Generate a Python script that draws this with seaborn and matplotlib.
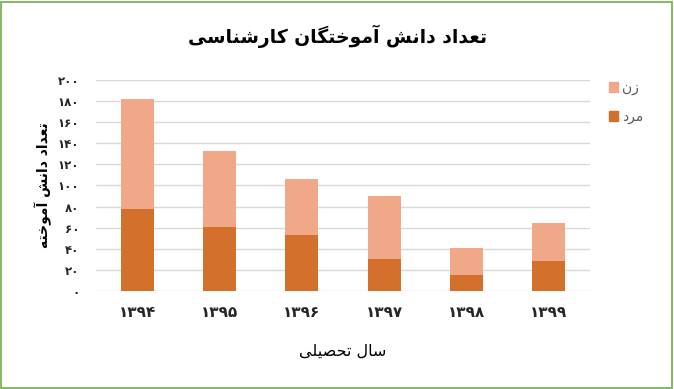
import matplotlib
matplotlib.use("Agg")
import matplotlib.pyplot as plt
import matplotlib.patches as mpatches
import seaborn as sns
import pandas as pd

# ---- data ----
years = ["1394", "1395", "1396", "1397", "1398", "1399"]
mard = [78, 61, 53, 30, 15, 28]
zan = [104, 72, 53, 60, 26, 36]
yticks = [0, 20, 40, 60, 80, 100, 120, 140, 160, 180, 200]
title = "تعداد دانش آموختگان کارشناسی"
xlabel = "سال تحصیلی"
ylabel = "تعداد دانش آموخته"
label_zan = "زن"
label_mard = "مرد"

# ---- minimal Arabic/Persian shaping (matplotlib has no complex text layout) ----
FORMS = {
    "ا": ("\uFE8D", "\uFE8E", None, None),
    "آ": ("\uFE81", "\uFE82", None, None),
    "د": ("\uFEA9", "\uFEAA", None, None),
    "ر": ("\uFEAD", "\uFEAE", None, None),
    "ز": ("\uFEAF", "\uFEB0", None, None),
    "و": ("\uFEED", "\uFEEE", None, None),
    "ت": ("\uFE95", "\uFE96", "\uFE97", "\uFE98"),
    "ع": ("\uFEC9", "\uFECA", "\uFECB", "\uFECC"),
    "ن": ("\uFEE5", "\uFEE6", "\uFEE7", "\uFEE8"),
    "ش": ("\uFEB5", "\uFEB6", "\uFEB7", "\uFEB8"),
    "م": ("\uFEE1", "\uFEE2", "\uFEE3", "\uFEE4"),
    "خ": ("\uFEA5", "\uFEA6", "\uFEA7", "\uFEA8"),
    "گ": ("\uFB92", "\uFB93", "\uFB94", "\uFB95"),
    "ک": ("\uFB8E", "\uFB8F", "\uFB90", "\uFB91"),
    "س": ("\uFEB1", "\uFEB2", "\uFEB3", "\uFEB4"),
    "ی": ("\uFBFC", "\uFBFD", "\uFBFE", "\uFBFF"),
    "ه": ("\uFEE9", "\uFEEA", "\uFEEB", "\uFEEC"),
    "ل": ("\uFEDD", "\uFEDE", "\uFEDF", "\uFEE0"),
    "ح": ("\uFEA1", "\uFEA2", "\uFEA3", "\uFEA4"),
    "ص": ("\uFEB9", "\uFEBA", "\uFEBB", "\uFEBC"),
}


def dual(c):
    return c in FORMS and FORMS[c][2] is not None


def shape(text):
    out = []
    n = len(text)
    for i, c in enumerate(text):
        if c not in FORMS:
            out.append(c)
            continue
        prev = text[i - 1] if i > 0 else ""
        nxt = text[i + 1] if i < n - 1 else ""
        jp = dual(prev)
        jn = dual(c) and nxt in FORMS
        iso, fin, ini, med = FORMS[c]
        if jp and jn:
            out.append(med)
        elif jp:
            out.append(fin)
        elif jn:
            out.append(ini)
        else:
            out.append(iso)
    return "".join(out)[::-1]


def fa_digits(s):
    return str(s).translate(str.maketrans("0123456789", "۰۱۲۳۴۵۶۷۸۹"))


# ---- data frame ----
df = pd.DataFrame({
    "year": [fa_digits(y) for y in years],
    "mard": mard,
    "zan": zan,
})
df["total"] = df["mard"] + df["zan"]

sns.set_theme(style="white")
plt.rcParams["font.family"] = ["DejaVu Sans"]

c_mard = "#D2702C"
c_zan = "#F0A888"

fig = plt.figure(figsize=(6.74, 3.89), dpi=100)
ax = fig.add_axes([96 / 674, 1 - 291 / 389, (590 - 96) / 674, (291 - 80) / 389])

sns.barplot(data=df, x="year", y="total", color=c_zan, width=0.4,
            saturation=1, ax=ax, zorder=3, linewidth=0)
sns.barplot(data=df, x="year", y="mard", color=c_mard, width=0.4,
            saturation=1, ax=ax, zorder=3, linewidth=0)

ax.set_ylim(0, 200)
ax.set_xlim(-0.5, len(years) - 0.5)
ax.set_yticks(yticks)
ax.set_yticklabels([fa_digits(v) for v in yticks], fontsize=8.5,
                   fontweight="bold", color="#262626")
for lab in ax.get_xticklabels():
    lab.set_fontsize(11)
    lab.set_fontweight("bold")
    lab.set_color("#262626")
ax.tick_params(axis="both", length=0)
ax.tick_params(axis="y", pad=12)
ax.tick_params(axis="x", pad=10)
ax.yaxis.grid(True, color="#D9D9D9", linewidth=1, zorder=0)
ax.set_axisbelow(True)
for s in ax.spines.values():
    s.set_visible(False)

ax.set_xlabel(shape(xlabel), fontsize=11.5, color="#000000", labelpad=17)
ax.set_ylabel(shape(ylabel), fontsize=10, fontweight="bold",
              color="#000000", labelpad=4)

fig.text(338 / 674, 1 - 36 / 389, shape(title), fontsize=13.5,
         fontweight="bold", ha="center", va="center", color="#000000")

handles = [mpatches.Patch(color=c_zan, label=shape(label_zan)),
           mpatches.Patch(color=c_mard, label=shape(label_mard))]
fig.legend(handles=handles, loc="upper left",
           bbox_to_anchor=(596 / 674, 1 - 68 / 389), frameon=False,
           fontsize=10, handlelength=0.7, handleheight=0.7,
           handletextpad=0.3, labelspacing=1.1, labelcolor="#595959")

# green chart-area border
border = mpatches.Rectangle((0.0015, 0.003), 0.996, 0.993,
                            transform=fig.transFigure, fill=False,
                            edgecolor="#70AD47", linewidth=1.2)
fig.patches.append(border)

fig.savefig("out.png", dpi=100, facecolor="white")
